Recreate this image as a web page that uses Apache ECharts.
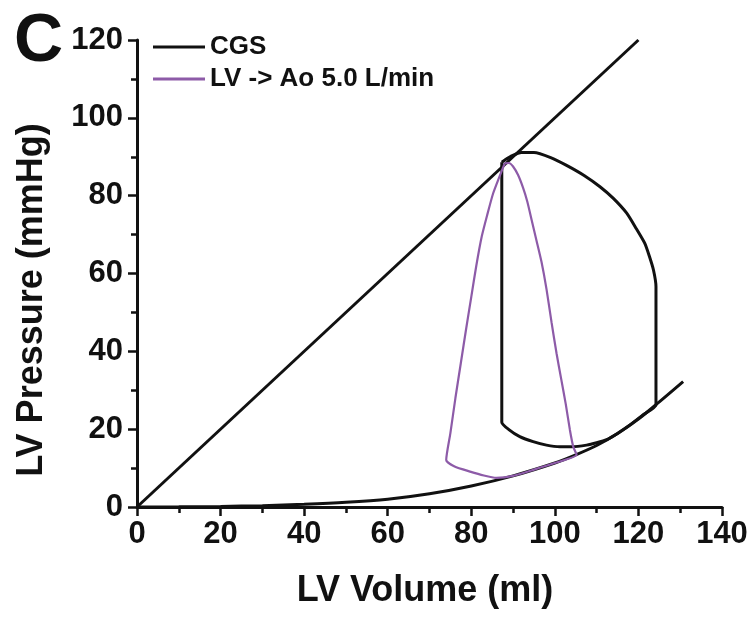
<!DOCTYPE html>
<html>
<head>
<meta charset="utf-8">
<script src="https://cdn.jsdelivr.net/npm/echarts@6/dist/echarts.min.js"></script>
<style>
html,body{margin:0;padding:0;background:#fff;}
#chart{width:756px;height:617px;}
</style>
</head>
<body>
<div id="chart"></div>
<script>
// ---- Data ----
const seriesNames = ['CGS', 'LV -> Ao 5.0 L/min'];
const xTicks = [0, 20, 40, 60, 80, 100, 120, 140];
const yTicks = [0, 20, 40, 60, 80, 100, 120];

// End-systolic pressure-volume relation (straight line)
const espvr = [[0, 0], [120, 120]];

// End-diastolic pressure-volume relation (exponential-looking curve)
const edpvr = [
  [0, 0], [10, 0.05], [20, 0.15], [30, 0.35], [40, 0.7], [50, 1.2], [60, 2.0],
  [70, 3.4], [80, 5.4], [90, 8.0], [100, 11.3], [105, 13.4], [110, 15.8],
  [115, 18.9], [120, 22.6], [125, 27.0], [130.7, 32.2]
];

// CGS loop (black)
const cgsLoop = [
  [87.3, 88.6], [87.3, 60], [87.3, 40], [87.3, 21.8],
  [89, 19.9], [91.6, 18.1], [94.8, 16.8], [98, 15.9], [101.2, 15.5], [104, 15.5],
  [107.6, 15.9], [110, 16.5], [112.4, 17.3], [115, 18.9], [118, 21.1], [121, 23.6], [124.2, 26.3],
  [124.2, 40], [124.2, 56.6], [123.6, 60.9], [122.6, 64.5], [121.5, 67.8], [119.5, 71.5],
  [117.2, 75.5], [114, 79.3], [110.8, 82.3], [107, 85.2], [102.8, 87.8], [99, 89.8],
  [95, 91.1], [92, 91.1], [89.8, 90.3], [88.2, 89.3], [87.3, 88.6]
];

// LV -> Ao 5.0 L/min loop (purple)
const lvaoLoop = [
  [88, 88.3], [86.6, 84.5], [85.2, 80.5], [83.8, 75], [82.5, 69.5], [81.2, 62],
  [80, 54], [78.8, 46], [77.5, 37], [76.2, 28], [75, 19], [74, 12.1],
  [76, 10.4], [79.7, 9.1], [83, 8.1], [86, 7.5], [90, 8.0], [95, 9.6], [100, 11.3], [105.2, 13.4],
  [104.4, 15.5], [103.6, 19.8], [102.6, 26.5], [101.5, 33], [100.4, 39.5], [99.2, 47.5],
  [98, 56], [96.8, 63], [95.6, 68.5], [94.5, 73.5], [93.4, 78.5], [92.4, 82], [91.2, 85.3],
  [90, 87.5], [89, 88.4], [88, 88.3]
];

const black = '#111111';
const purple = '#8d5ba8';
const FONT = 'Liberation Sans, Arial, sans-serif';

const chart = echarts.init(document.getElementById('chart'), null, {renderer: 'canvas'});

const axisCommon = {
  type: 'value',
  interval: 20,
  axisLine: {show: true, onZero: false, lineStyle: {color: black, width: 3}},
  axisTick: {show: true, inside: false, length: 9, lineStyle: {color: black, width: 2.5}},
  minorTick: {show: true, splitNumber: 2, length: 6, lineStyle: {color: black, width: 2.5}},
  splitLine: {show: false},
  minorSplitLine: {show: false},
  axisLabel: {color: black, fontFamily: FONT, fontWeight: 'bold', fontSize: 31}
};

chart.setOption({
  animation: false,
  backgroundColor: '#ffffff',
  grid: {left: 137, right: 34, top: 40, bottom: 110, containLabel: false},
  xAxis: Object.assign({}, axisCommon, {
    min: xTicks[0], max: xTicks[xTicks.length - 1],
    axisLabel: Object.assign({}, axisCommon.axisLabel, {margin: 12})
  }),
  yAxis: Object.assign({}, axisCommon, {
    min: yTicks[0], max: yTicks[yTicks.length - 1],
    axisLabel: Object.assign({}, axisCommon.axisLabel, {margin: 14})
  }),
  legend: {
    orient: 'vertical',
    left: 153, top: 33, padding: 0,
    itemWidth: 52, itemHeight: 3, itemGap: 4,
    icon: 'rect',
    data: seriesNames,
    textStyle: {color: black, fontFamily: FONT, fontWeight: 'bold', fontSize: 26, lineHeight: 28}
  },
  graphic: [
    {type: 'text', left: 14, top: 8, style: {text: 'C', fontFamily: FONT, fontWeight: 'bold', fontSize: 68, fill: black}},
    {type: 'text', x: 32, y: 300, rotation: Math.PI / 2,
     style: {text: 'LV Pressure (mmHg)', fontFamily: FONT, fontWeight: 'bold', fontSize: 36, fill: black, align: 'center', verticalAlign: 'middle'}},
    {type: 'text', x: 425, y: 591,
     style: {text: 'LV Volume (ml)', fontFamily: FONT, fontWeight: 'bold', fontSize: 36, fill: black, align: 'center', verticalAlign: 'middle'}}
  ],
  series: [
    {name: 'ESPVR', type: 'line', data: espvr, showSymbol: false, lineStyle: {color: black, width: 3}, itemStyle: {color: black}, silent: true},
    {name: 'EDPVR', type: 'line', data: edpvr, smooth: 0.3, showSymbol: false, lineStyle: {color: black, width: 3}, itemStyle: {color: black}, silent: true},
    {name: seriesNames[0], type: 'line', data: cgsLoop, smooth: 0.2, showSymbol: false, lineStyle: {color: black, width: 3}, itemStyle: {color: black}},
    {name: seriesNames[1], type: 'line', data: lvaoLoop, smooth: 0.2, showSymbol: false, lineStyle: {color: purple, width: 2.2}, itemStyle: {color: purple}}
  ]
});
</script>
</body>
</html>
